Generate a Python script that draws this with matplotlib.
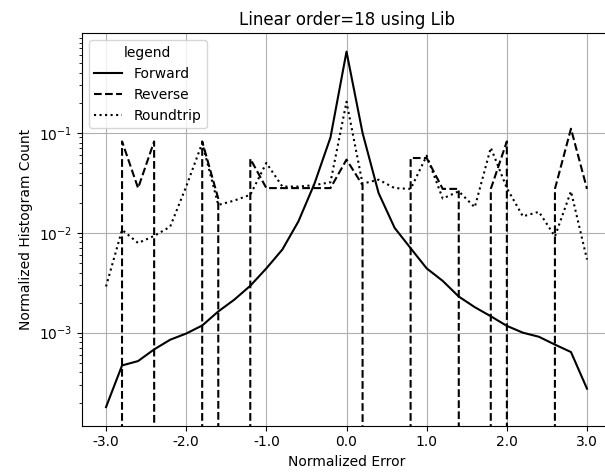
import numpy as np
import matplotlib
matplotlib.use('Agg')
import matplotlib.pyplot as plt
from matplotlib.ticker import FormatStrFormatter

# Bin centres of the normalized error histogram
error_bins = [-3.0, -2.8, -2.6, -2.4, -2.2, -2.0, -1.8, -1.6, -1.4, -1.2, -1.0,
              -0.8, -0.6, -0.4, -0.2, 0.0, 0.2, 0.4, 0.6, 0.8, 1.0,
              1.2, 1.4, 1.6, 1.8, 2.0, 2.2, 2.4, 2.6, 2.8, 3.0]

forward = [1.8e-4, 4.7e-4, 5.2e-4, 6.8e-4, 8.5e-4, 9.8e-4, 1.18e-3, 1.63e-3, 2.14e-3, 2.95e-3, 4.4e-3,
           6.8e-3, 1.3e-2, 3.1e-2, 9.0e-2, 0.65, 0.1, 2.5e-2, 1.12e-2, 7.0e-3, 4.4e-3,
           3.3e-3, 2.3e-3, 1.8e-3, 1.46e-3, 1.17e-3, 1.0e-3, 9.1e-4, 7.6e-4, 6.4e-4, 2.75e-4]

reverse = [0.0, 0.082, 0.028, 0.082, 0.0, 0.0, 0.082, 0.022, 0.0, 0.055, 0.028,
           0.028, 0.028, 0.028, 0.028, 0.054, 0.030, 0.0, 0.0, 0.056, 0.056,
           0.0275, 0.0275, 0.0, 0.0275, 0.082, 0.0, 0.0, 0.0275, 0.11, 0.0275]

roundtrip = [2.9e-3, 0.0107, 7.9e-3, 9.3e-3, 0.0115, 0.029, 0.079, 0.019, 0.021, 0.024, 0.05,
             0.029, 0.029, 0.030, 0.032, 0.205, 0.031, 0.034, 0.028, 0.0275, 0.059,
             0.022, 0.026, 0.018, 0.071, 0.028, 0.0146, 0.0162, 0.0092, 0.026, 0.0054]

fig, ax = plt.subplots(figsize=(6.05, 4.75), dpi=100)

ax.plot(error_bins, forward, color='black', linestyle='-', label='Forward')
ax.plot(error_bins, reverse, color='black', linestyle='--', label='Reverse')
ax.plot(error_bins, roundtrip, color='black', linestyle=':', label='Roundtrip')

ax.set_yscale('log')
ax.set_ylim(10 ** -3.93, 10 ** -0.003)
ax.set_xlim(-3.3, 3.3)
ax.set_xticks([-3, -2, -1, 0, 1, 2, 3])
ax.xaxis.set_major_formatter(FormatStrFormatter('%.1f'))
ax.grid(True)

ax.set_xlabel('Normalized Error')
ax.set_ylabel('Normalized Histogram Count')
ax.set_title('Linear order=18 using Lib')
ax.legend(title='legend', loc='upper left')

# the original image is cut off just past the right spine
plt.subplots_adjust(left=0.1355, right=1.01, top=0.93, bottom=0.104)
plt.savefig('out.png')
